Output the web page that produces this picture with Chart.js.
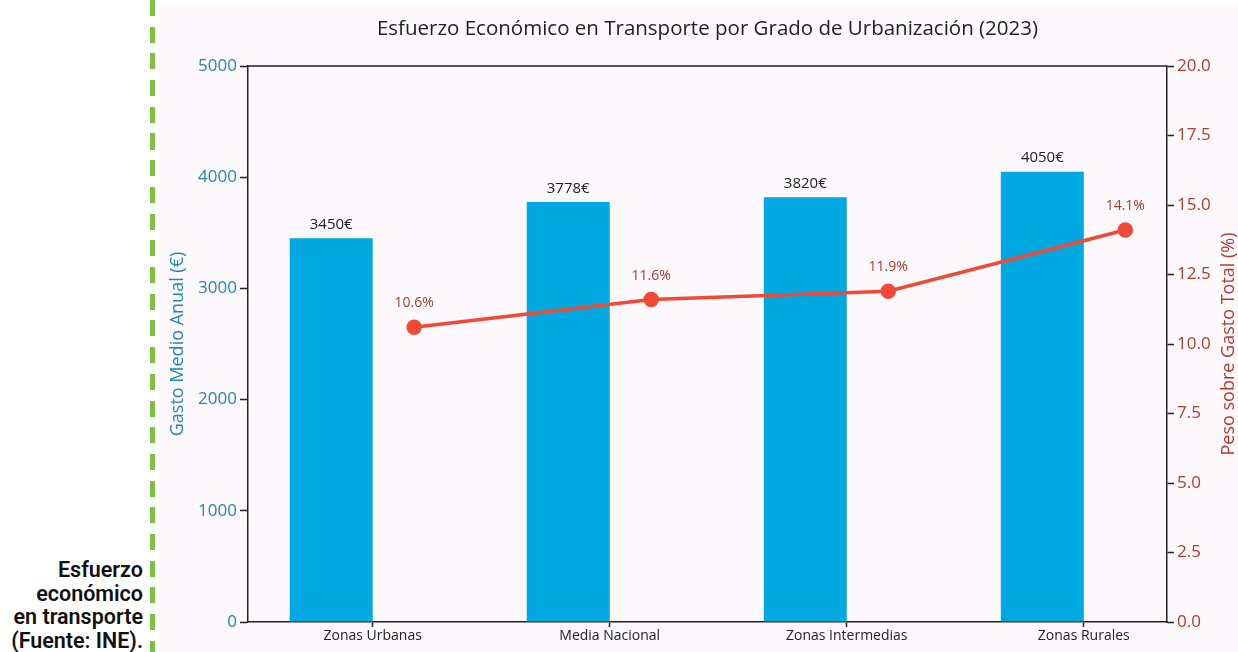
<!DOCTYPE html>
<html lang="es">
<head>
<meta charset="UTF-8">
<title>Esfuerzo Económico en Transporte</title>
<script src="https://cdn.jsdelivr.net/npm/chart.js"></script>
<style>
    html, body { margin: 0; padding: 0; background: #fff; }
    body { width: 1238px; height: 652px; position: relative; overflow: hidden; }
    #rule {
        position: absolute; left: 150px; top: 0; width: 5px; height: 652px;
        background: repeating-linear-gradient(to bottom, #7cc242 0, #7cc242 16px, transparent 16px, transparent 26.7px);
    }
    #caption {
        position: absolute; right: 1095px; top: 558px; width: 150px;
        text-align: right; font-family: Roboto, sans-serif; font-weight: 600;
        font-size: 21.5px; line-height: 23.5px; color: #111;
    }
    #box {
        position: absolute; left: 159px; top: 7px; width: 1079px; height: 645px;
        background: #fcf8fc;
    }
</style>
</head>
<body>

<div id="rule"></div>
<div id="caption">Esfuerzo<br>económico<br>en transporte<br>(Fuente: INE).</div>
<div id="box"><canvas id="chart" width="1079" height="645"></canvas></div>

<script>
var categories = ['Zonas Urbanas', 'Media Nacional', 'Zonas Intermedias', 'Zonas Rurales'];
var gasto = [3450, 3778, 3820, 4050];      // euros al año
var peso = [10.6, 11.6, 11.9, 14.1];       // % sobre gasto total

var FONT = "'Open Sans', sans-serif";
var BLUE = '#00a8e1';
var RED = '#f04a36';
var BLUE_TXT = '#2386b3';
var RED_TXT = '#b23c2c';

// barras a la izquierda del tick, linea a la derecha (como matplotlib)
var barData = gasto.map(function (v, i) { return {x: i - 0.175, y: v}; });
var lineData = peso.map(function (v, i) { return {x: i + 0.175, y: v}; });

var extras = {
    id: 'extras',
    afterDatasetsDraw: function (chart) {
        var ctx = chart.ctx;
        var a = chart.chartArea;
        ctx.save();
        // borde superior
        ctx.strokeStyle = '#222';
        ctx.lineWidth = 1.5;
        ctx.beginPath();
        ctx.moveTo(a.left, a.top);
        ctx.lineTo(a.right, a.top);
        ctx.stroke();

        // etiquetas de barras
        ctx.textAlign = 'center';
        ctx.textBaseline = 'bottom';
        ctx.font = '15px ' + FONT;
        ctx.fillStyle = '#222';
        chart.getDatasetMeta(0).data.forEach(function (el, i) {
            ctx.fillText(gasto[i] + '€', el.x, el.y - 6);
        });
        // etiquetas de la linea
        ctx.fillStyle = RED_TXT;
        ctx.font = '14px ' + FONT;
        chart.getDatasetMeta(1).data.forEach(function (el, i) {
            ctx.fillText(peso[i].toFixed(1) + '%', el.x, el.y - 17);
        });

        // titulo del eje derecho, leido de abajo a arriba
        var y1 = chart.scales.y1;
        ctx.translate(y1.right - 9, (a.top + a.bottom) / 2);
        ctx.rotate(-Math.PI / 2);
        ctx.textBaseline = 'middle';
        ctx.font = '18px ' + FONT;
        ctx.fillText('Peso sobre Gasto Total (%)', 0, 0);
        ctx.restore();
    }
};

new Chart(document.getElementById('chart'), {
    type: 'bar',
    data: {
        datasets: [{
            type: 'bar',
            data: barData,
            backgroundColor: BLUE,
            categoryPercentage: 0.35,
            barPercentage: 1,
            yAxisID: 'y',
            order: 2
        }, {
            type: 'line',
            data: lineData,
            borderColor: RED,
            backgroundColor: RED,
            borderWidth: 3.5,
            pointRadius: 6,
            pointHoverRadius: 6,
            yAxisID: 'y1',
            order: 1
        }]
    },
    options: {
        responsive: false,
        animation: false,
        layout: { padding: 0 },
        plugins: {
            legend: { display: false },
            tooltip: { enabled: false },
            title: {
                display: true,
                fullSize: false,
                text: 'Esfuerzo Económico en Transporte por Grado de Urbanización (2023)',
                color: '#222',
                font: { family: FONT, size: 20.5, weight: 'normal' },
                padding: { top: 10, bottom: 24.4 }
            }
        },
        scales: {
            x: {
                type: 'linear',
                min: -0.526,
                max: 3.351,
                offset: false,
                grid: { offset: false, drawOnChartArea: false, tickLength: 5, tickColor: '#222', tickWidth: 1.5 },
                border: { color: '#222', width: 1.5 },
                afterBuildTicks: function (s) {
                    s.ticks = categories.map(function (c, i) { return {value: i}; });
                },
                ticks: {
                    color: '#222',
                    font: { family: FONT, size: 14 },
                    padding: 1,
                    maxRotation: 0,
                    callback: function (v) { return categories[v]; }
                },
                afterFit: function (s) { s.height = 30; }
            },
            y: {
                position: 'left',
                min: 0,
                max: 5000,
                grid: { drawOnChartArea: false, tickLength: 8, tickColor: '#222', tickWidth: 1.5 },
                border: { color: '#222', width: 1.5 },
                ticks: {
                    stepSize: 1000,
                    color: BLUE_TXT,
                    font: { family: FONT, size: 17 },
                    padding: 3,
                    callback: function (v) { return String(v); }
                },
                title: {
                    display: true,
                    text: 'Gasto Medio Anual (€)',
                    color: BLUE_TXT,
                    font: { family: FONT, size: 18 },
                    padding: { top: 8, bottom: 0 }
                },
                afterFit: function (s) { s.width = 89; }
            },
            y1: {
                position: 'right',
                min: 0,
                max: 20,
                grid: { drawOnChartArea: false, tickLength: 7, tickColor: '#222', tickWidth: 1.5 },
                border: { color: '#222', width: 1.5 },
                ticks: {
                    stepSize: 2.5,
                    color: RED_TXT,
                    font: { family: FONT, size: 17 },
                    padding: 3,
                    callback: function (v) { return v.toFixed(1); }
                },
                afterFit: function (s) { s.width = 71; }
            }
        }
    },
    plugins: [extras]
});
</script>

</body>
</html>
